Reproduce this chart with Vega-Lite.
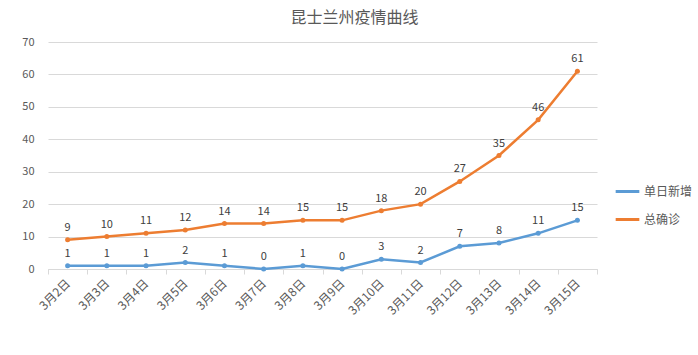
{
  "$schema": "https://vega.github.io/schema/vega-lite/v6.json",
  "autosize": "none",
  "width": 549,
  "height": 227,
  "padding": {"left": 48, "top": 42, "right": 101, "bottom": 86},
  "background": "white",
  "config": {
    "font": "Noto Sans CJK SC",
    "view": {"stroke": null}
  },
  "title": {
    "text": "昆士兰州疫情曲线",
    "fontSize": 16,
    "fontWeight": "normal",
    "color": "#595959",
    "dx": 32,
    "offset": 10
  },
  "data": {
    "values": [
      {"date": "3月2日", "series": "单日新增", "value": 1},
      {"date": "3月3日", "series": "单日新增", "value": 1},
      {"date": "3月4日", "series": "单日新增", "value": 1},
      {"date": "3月5日", "series": "单日新增", "value": 2},
      {"date": "3月6日", "series": "单日新增", "value": 1},
      {"date": "3月7日", "series": "单日新增", "value": 0},
      {"date": "3月8日", "series": "单日新增", "value": 1},
      {"date": "3月9日", "series": "单日新增", "value": 0},
      {"date": "3月10日", "series": "单日新增", "value": 3},
      {"date": "3月11日", "series": "单日新增", "value": 2},
      {"date": "3月12日", "series": "单日新增", "value": 7},
      {"date": "3月13日", "series": "单日新增", "value": 8},
      {"date": "3月14日", "series": "单日新增", "value": 11},
      {"date": "3月15日", "series": "单日新增", "value": 15},
      {"date": "3月2日", "series": "总确诊", "value": 9},
      {"date": "3月3日", "series": "总确诊", "value": 10},
      {"date": "3月4日", "series": "总确诊", "value": 11},
      {"date": "3月5日", "series": "总确诊", "value": 12},
      {"date": "3月6日", "series": "总确诊", "value": 14},
      {"date": "3月7日", "series": "总确诊", "value": 14},
      {"date": "3月8日", "series": "总确诊", "value": 15},
      {"date": "3月9日", "series": "总确诊", "value": 15},
      {"date": "3月10日", "series": "总确诊", "value": 18},
      {"date": "3月11日", "series": "总确诊", "value": 20},
      {"date": "3月12日", "series": "总确诊", "value": 27},
      {"date": "3月13日", "series": "总确诊", "value": 35},
      {"date": "3月14日", "series": "总确诊", "value": 46},
      {"date": "3月15日", "series": "总确诊", "value": 61}
    ]
  },
  "encoding": {
    "x": {
      "field": "date",
      "type": "ordinal",
      "sort": null,
      "scale": {"paddingInner": 0, "paddingOuter": 0},
      "axis": {
        "title": null,
        "labelAngle": -45,
        "labelAlign": "right",
        "labelBaseline": "middle",
        "labelFontSize": 12,
        "labelColor": "#595959",
        "labelPadding": 7,
        "domainColor": "#d9d9d9",
        "tickColor": "#d9d9d9",
        "tickBand": "extent",
        "tickSize": 5,
        "grid": false
      }
    },
    "y": {
      "field": "value",
      "type": "quantitative",
      "scale": {"domain": [0, 70], "nice": false},
      "axis": {
        "title": null,
        "values": [0, 10, 20, 30, 40, 50, 60, 70],
        "labelFontSize": 11,
        "labelColor": "#595959",
        "labelPadding": 14,
        "domain": false,
        "ticks": false,
        "gridColor": "#d9d9d9"
      }
    },
    "color": {
      "field": "series",
      "type": "nominal",
      "sort": ["单日新增", "总确诊"],
      "scale": {"domain": ["单日新增", "总确诊"], "range": ["#5B9BD5", "#ED7D31"]},
      "legend": {
        "title": null,
        "orient": "none",
        "legendX": 566,
        "legendY": 136,
        "symbolType": "stroke",
        "symbolStrokeWidth": 3,
        "symbolSize": 560,
        "labelOffset": 3,
        "labelFontSize": 12,
        "labelColor": "#595959",
        "rowPadding": 8
      }
    }
  },
  "layer": [
    {"mark": {"type": "line", "strokeWidth": 2.5}},
    {"mark": {"type": "point", "filled": true, "size": 25, "opacity": 1}},
    {
      "mark": {"type": "text", "dy": -12, "fontSize": 11, "color": "#404040"},
      "encoding": {"text": {"field": "value", "type": "quantitative"}, "color": {"value": "#404040"}}
    }
  ]
}
